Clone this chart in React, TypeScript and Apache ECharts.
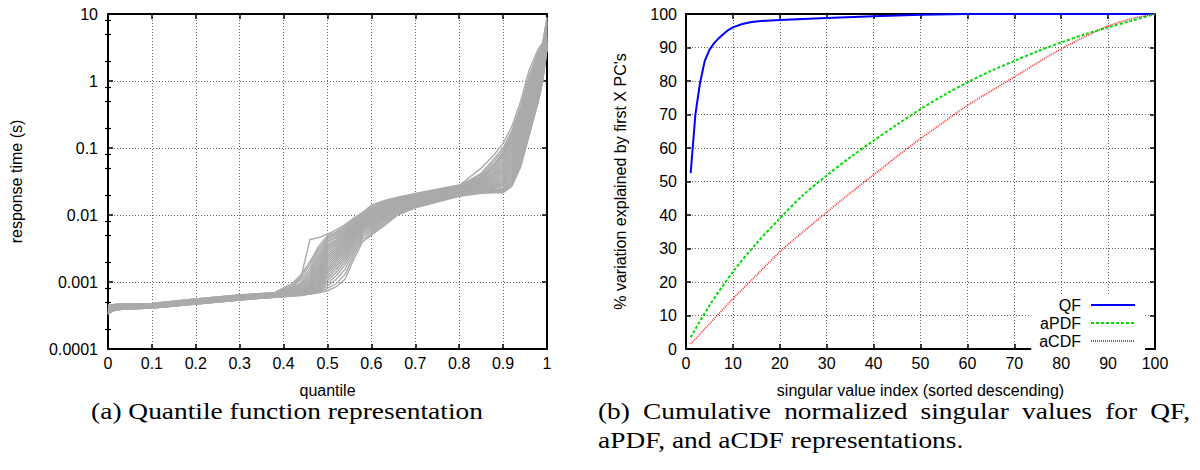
import React, { useEffect, useRef } from "react";
import * as echarts from "echarts";

// ---------- (a) quantile functions: response time in ms at each quantile ----------
const QUANTILES = [0, 0.01, 0.03, 0.1, 0.2, 0.3, 0.38, 0.42, 0.44, 0.46, 0.48, 0.5, 0.52, 0.54, 0.56, 0.58, 0.6, 0.63, 0.66, 0.7, 0.8, 0.85, 0.88, 0.9, 0.92, 0.94, 0.96, 0.98, 0.99, 1];

const RESPONSE_MS: number[][] = [
  [0.42, 0.44, 0.45, 0.47, 0.54, 0.62, 0.66, 0.80, 1.2, 4.3, 4.6, 5.2, 6.0, 7.2, 9.0, 11, 14, 16.5, 18.5, 21, 28, 36, 55, 80, 150, 340, 1000, 2300, 3200, 7500],
  [0.45, 0.46, 0.47, 0.48, 0.56, 0.64, 0.70, 0.95, 1.3, 2.0, 3.4, 4.9, 5.6, 6.8, 8.6, 10.6, 13.4, 16, 18, 20.5, 27.5, 50, 80, 117, 210, 500, 1500, 3000, 3700, 9000],
  [0.45, 0.46, 0.47, 0.48, 0.56, 0.64, 0.69, 0.90, 1.2, 1.8, 3.1, 4.6, 5.3, 6.5, 8.2, 10.2, 12.8, 15.5, 17.5, 20.1, 27, 42, 70, 100, 180, 420, 1250, 2700, 3500, 8500],
  [0.42, 0.44, 0.45, 0.47, 0.54, 0.62, 0.68, 0.85, 1.1, 1.6, 2.8, 4.4, 5.1, 6.2, 7.8, 9.8, 12.3, 15, 17.1, 19.7, 26.6, 40, 64, 92, 165, 380, 1100, 2500, 3300, 8000],
  [0.40, 0.43, 0.44, 0.46, 0.53, 0.60, 0.67, 0.80, 1.0, 1.45, 2.5, 4.1, 4.8, 5.9, 7.5, 9.5, 11.9, 14.6, 16.7, 19.3, 26.2, 38, 58, 85, 150, 340, 950, 2300, 3200, 7600],
  [0.45, 0.46, 0.47, 0.48, 0.56, 0.64, 0.67, 0.77, 0.95, 1.32, 2.3, 3.9, 4.6, 5.6, 7.2, 9.2, 11.5, 14.2, 16.3, 19.0, 25.8, 36, 54, 78, 140, 310, 850, 2100, 3100, 7200],
  [0.42, 0.44, 0.45, 0.47, 0.54, 0.62, 0.66, 0.75, 0.9, 1.22, 2.1, 3.6, 4.3, 5.4, 7.0, 9.0, 11.2, 13.8, 16, 18.7, 25.4, 35, 50, 72, 128, 280, 760, 1950, 2950, 6800],
  [0.38, 0.41, 0.43, 0.45, 0.52, 0.59, 0.66, 0.73, 0.86, 1.13, 1.9, 3.4, 4.1, 5.2, 6.8, 8.8, 10.9, 13.5, 15.7, 18.4, 25, 34, 47, 66, 118, 255, 680, 1800, 2800, 6400],
  [0.40, 0.43, 0.44, 0.46, 0.53, 0.60, 0.65, 0.71, 0.82, 1.06, 1.75, 3.2, 3.9, 5.0, 6.6, 8.6, 10.6, 13.2, 15.4, 18.1, 24.7, 33, 44, 61, 108, 235, 620, 1650, 2650, 6000],
  [0.36, 0.40, 0.42, 0.44, 0.50, 0.57, 0.65, 0.70, 0.79, 1.0, 1.6, 3.0, 3.7, 4.8, 6.4, 8.4, 10.3, 12.9, 15.1, 17.8, 24.4, 32, 42, 57, 100, 215, 570, 1500, 2500, 5700],
  [0.42, 0.44, 0.45, 0.47, 0.54, 0.62, 0.64, 0.69, 0.77, 0.95, 1.48, 2.8, 3.5, 4.6, 6.2, 8.2, 10.0, 12.6, 14.8, 17.5, 24.1, 31, 40, 53, 92, 200, 520, 1400, 2350, 5400],
  [0.38, 0.41, 0.43, 0.45, 0.52, 0.59, 0.64, 0.68, 0.75, 0.91, 1.38, 2.6, 3.3, 4.4, 6.0, 8.0, 9.7, 12.3, 14.5, 17.2, 23.8, 30, 38, 49, 85, 185, 480, 1300, 2200, 5100],
  [0.34, 0.38, 0.40, 0.42, 0.48, 0.55, 0.63, 0.67, 0.73, 0.87, 1.28, 2.45, 3.1, 4.2, 5.8, 7.8, 9.4, 12.0, 14.2, 16.9, 23.5, 29.5, 36, 46, 78, 170, 440, 1200, 2050, 4800],
  [0.40, 0.43, 0.44, 0.46, 0.53, 0.60, 0.63, 0.67, 0.72, 0.84, 1.2, 2.3, 2.9, 4.0, 5.6, 7.6, 9.1, 11.7, 13.9, 16.6, 23.2, 29, 34.5, 43, 72, 158, 410, 1100, 1900, 4600],
  [0.36, 0.40, 0.42, 0.44, 0.50, 0.57, 0.63, 0.66, 0.71, 0.81, 1.12, 2.15, 2.75, 3.8, 5.4, 7.4, 8.8, 11.4, 13.6, 16.3, 22.9, 28, 33, 40, 66, 146, 380, 1020, 1800, 4400],
  [0.33, 0.37, 0.39, 0.41, 0.47, 0.54, 0.62, 0.66, 0.70, 0.79, 1.05, 2.0, 2.6, 3.6, 5.2, 7.2, 8.5, 11.1, 13.3, 16.0, 22.6, 27.5, 31.5, 37.5, 61, 135, 350, 950, 1700, 4200],
  [0.38, 0.41, 0.43, 0.45, 0.52, 0.59, 0.62, 0.65, 0.69, 0.77, 0.99, 1.85, 2.45, 3.4, 5.0, 7.0, 8.2, 10.8, 13.0, 15.7, 22.3, 27, 30, 35, 56, 124, 325, 880, 1600, 4000],
  [0.34, 0.38, 0.40, 0.42, 0.48, 0.55, 0.62, 0.65, 0.68, 0.75, 0.94, 1.7, 2.3, 3.2, 4.8, 6.8, 7.9, 10.5, 12.7, 15.4, 22, 26, 29, 33, 52, 114, 300, 820, 1500, 3900],
  [0.38, 0.41, 0.43, 0.45, 0.52, 0.59, 0.61, 0.64, 0.67, 0.73, 0.9, 1.58, 2.15, 3.0, 4.6, 6.6, 7.6, 10.2, 12.4, 15.1, 21.7, 25.5, 28, 31, 48, 105, 280, 760, 1420, 3800],
  [0.36, 0.40, 0.42, 0.44, 0.50, 0.57, 0.61, 0.64, 0.67, 0.72, 0.86, 1.46, 2.0, 2.8, 4.4, 6.4, 7.3, 9.9, 12.1, 14.8, 21.4, 25, 27, 29.5, 44, 96, 260, 710, 1350, 3700],
  [0.33, 0.37, 0.39, 0.41, 0.47, 0.54, 0.61, 0.64, 0.66, 0.71, 0.83, 1.35, 1.85, 2.6, 4.2, 6.2, 7.0, 9.6, 11.8, 14.5, 21.1, 24.5, 26, 28, 41, 88, 240, 660, 1280, 3600],
  [0.40, 0.43, 0.44, 0.46, 0.53, 0.60, 0.60, 0.63, 0.66, 0.70, 0.8, 1.24, 1.7, 2.4, 4.0, 6.0, 6.7, 9.3, 11.5, 14.2, 20.8, 24, 25, 26.5, 38, 80, 225, 620, 1220, 3500],
  [0.34, 0.38, 0.40, 0.42, 0.48, 0.55, 0.60, 0.63, 0.65, 0.69, 0.77, 1.14, 1.55, 2.2, 3.7, 5.7, 6.4, 9.0, 11.2, 13.9, 20.5, 23.5, 24, 25, 35, 73, 210, 590, 1160, 3400],
  [0.38, 0.41, 0.43, 0.45, 0.52, 0.59, 0.60, 0.63, 0.65, 0.68, 0.75, 1.05, 1.4, 2.0, 3.4, 5.4, 6.1, 8.6, 10.9, 13.6, 20.2, 23, 23.5, 24, 33, 67, 195, 560, 1100, 3300],
  [0.33, 0.37, 0.39, 0.41, 0.47, 0.54, 0.59, 0.62, 0.64, 0.67, 0.73, 0.96, 1.25, 1.8, 3.1, 5.1, 5.8, 8.2, 10.6, 13.4, 19.9, 22.5, 23, 23, 31, 62, 182, 530, 1060, 3200],
  [0.36, 0.40, 0.42, 0.44, 0.50, 0.57, 0.59, 0.62, 0.64, 0.67, 0.71, 0.88, 1.1, 1.55, 2.8, 4.8, 5.5, 7.8, 10.4, 13.2, 19.6, 22, 22.5, 22.5, 29.5, 58, 172, 510, 1020, 3100],
  [0.34, 0.38, 0.40, 0.42, 0.48, 0.55, 0.59, 0.62, 0.64, 0.66, 0.70, 0.8, 0.95, 1.3, 2.5, 4.4, 5.2, 7.4, 10.2, 13.0, 19.3, 21.5, 22, 22, 28, 55, 165, 495, 990, 3050],
  [0.33, 0.37, 0.39, 0.41, 0.47, 0.54, 0.59, 0.61, 0.63, 0.66, 0.69, 0.74, 0.85, 1.1, 2.2, 4.0, 5.0, 7.0, 10.0, 12.8, 19.0, 21, 21.5, 21.5, 27, 52, 160, 490, 980, 3000],
];

const LOG_MINOR_TICKS = [0.0002, 0.0005, 0.0008, 0.002, 0.005, 0.008, 0.02, 0.05, 0.08, 0.2, 0.5, 0.8, 2, 5, 8];

// ---------- (b) cumulative normalized singular values (%) ----------
const QF_INDEX = [1, 2, 3, 4, 5, 6, 7, 8, 9, 10, 12, 14, 16, 20, 25, 30, 40, 50, 60, 70, 80, 90, 100];
const QF_VALUES = [52.5, 70, 79.5, 86, 89.3, 91.3, 92.8, 94, 95.2, 96, 97, 97.6, 97.9, 98.2, 98.5, 98.8, 99.3, 99.8, 100, 100, 100, 100, 100];
const SV_INDEX = [1, 5, 10, 15, 20, 25, 30, 35, 40, 45, 50, 55, 60, 65, 70, 75, 80, 85, 90, 95, 100];
const APDF_VALUES = [3.5, 13, 23, 31.5, 39, 46, 51.8, 57.2, 62.2, 67, 71.6, 75.8, 79.6, 83, 86, 88.9, 91.5, 93.9, 96, 98, 100];
const ACDF_VALUES = [1.5, 7.5, 15, 22, 29, 35, 40.8, 46.5, 52, 57.5, 62.8, 67.8, 72.7, 77, 81.2, 85.5, 89.6, 93.2, 96.4, 98.6, 100];

const SERIES_NAMES = ["QF", "aPDF", "aCDF"];

const CAPTION_A = "(a) Quantile function representation";
const CAPTION_B1 = "(b) Cumulative normalized singular values for QF,";
const CAPTION_B2 = "aPDF, and aCDF representations.";

const SANS = "'Liberation Sans', Arial, Helvetica, sans-serif";
const SERIF = "'Liberation Serif', 'Times New Roman', serif";
const CAP_SIZE = 24;
const FS = 16;

function measure(text: string, font: string): number {
  const ctx = document.createElement("canvas").getContext("2d");
  if (!ctx) return text.length * 10;
  ctx.font = font;
  return ctx.measureText(text).width;
}

const splitLineStyle = { show: true, lineStyle: { color: "#666", width: 1, type: [1, 2] as any } };
const axisLineStyle = { show: true, onZero: false, lineStyle: { color: "#000", width: 2 } };
const majorTick = { show: true, inside: true, length: 5, lineStyle: { color: "#000", width: 1.5 } };
const labelStyle = { color: "#000", fontSize: FS, fontFamily: SANS };
const nameStyle = { color: "#000", fontSize: FS, fontFamily: SANS };

export default function App() {
  const ref = useRef<HTMLDivElement>(null);

  useEffect(() => {
    if (!ref.current) return;
    const chart = echarts.init(ref.current, null, { renderer: "svg" });

    const capFont = `${CAP_SIZE}px ${SERIF}`;
    const capScale = 392 / measure(CAPTION_A, capFont);
    const words = CAPTION_B1.split(" ");
    const widths = words.map((w) => measure(w, capFont) * capScale);
    const lineStart = 598;
    const lineEnd = 1190;
    const gap = (lineEnd - lineStart - widths.reduce((a, b) => a + b, 0)) / (words.length - 1);
    let cursor = lineStart;
    const wordTexts = words.map((w, i) => {
      const el = {
        type: "text",
        x: cursor,
        y: 411,
        scaleX: capScale,
        style: { text: w, fontSize: CAP_SIZE, fontFamily: SERIF, fill: "#000", verticalAlign: "middle", align: "left" },
      };
      cursor += widths[i] + gap;
      return el;
    });

    const qfSeries = RESPONSE_MS.map((row, k) => ({
      name: `q${k}`,
      type: "line",
      xAxisIndex: 0,
      yAxisIndex: 0,
      data: QUANTILES.map((q, i) => [q, row[i] / 1000]),
      symbol: "none",
      silent: true,
      lineStyle: { color: "#aaaaaa", width: 1.4 },
      z: 2,
    }));

    const option: any = {
      animation: false,
      backgroundColor: "#fff",
      textStyle: { fontFamily: SANS },
      grid: [
        { left: 108, top: 14, width: 439, height: 335 },
        { left: 686, top: 14, width: 469, height: 335 },
      ],
      xAxis: [
        {
          gridIndex: 0, type: "value", min: 0, max: 1, interval: 0.1, position: "bottom",
          axisLine: axisLineStyle, axisTick: majorTick, splitLine: splitLineStyle,
          axisLabel: { ...labelStyle, margin: 6 },
          name: "quantile", nameLocation: "middle", nameGap: 33, nameTextStyle: nameStyle,
        },
        {
          gridIndex: 0, type: "value", min: 0, max: 1, interval: 0.1, position: "top",
          axisLine: axisLineStyle, axisTick: majorTick, splitLine: { show: false }, axisLabel: { show: false },
        },
        {
          gridIndex: 1, type: "value", min: 0, max: 100, interval: 10, position: "bottom",
          axisLine: axisLineStyle, axisTick: majorTick, splitLine: splitLineStyle,
          axisLabel: { ...labelStyle, margin: 6 },
          name: "singular value index (sorted descending)", nameLocation: "middle", nameGap: 33, nameTextStyle: nameStyle,
        },
        {
          gridIndex: 1, type: "value", min: 0, max: 100, interval: 10, position: "top",
          axisLine: axisLineStyle, axisTick: majorTick, splitLine: { show: false }, axisLabel: { show: false },
        },
      ],
      yAxis: [
        {
          gridIndex: 0, type: "log", logBase: 10, min: 0.0001, max: 10, position: "left",
          axisLine: axisLineStyle, axisTick: majorTick, splitLine: splitLineStyle, minorTick: { show: false },
          axisLabel: { ...labelStyle, margin: 10, formatter: (v: number) => (v >= 1 ? String(Math.round(v)) : String(Number(v.toPrecision(1)))) },
          name: "response time (s)", nameLocation: "middle", nameGap: 84, nameRotate: 90, nameTextStyle: nameStyle,
        },
        {
          gridIndex: 0, type: "log", logBase: 10, min: 0.0001, max: 10, position: "right",
          axisLine: axisLineStyle, axisTick: majorTick, splitLine: { show: false }, axisLabel: { show: false },
        },
        {
          gridIndex: 0, type: "log", logBase: 10, min: 0.0001, max: 10, position: "left",
          axisLine: { show: false }, splitLine: { show: false }, axisLabel: { show: false },
          axisTick: { show: true, inside: true, length: 3, customValues: LOG_MINOR_TICKS, lineStyle: { color: "#000", width: 1.2 } },
        },
        {
          gridIndex: 0, type: "log", logBase: 10, min: 0.0001, max: 10, position: "right",
          axisLine: { show: false }, splitLine: { show: false }, axisLabel: { show: false },
          axisTick: { show: true, inside: true, length: 3, customValues: LOG_MINOR_TICKS, lineStyle: { color: "#000", width: 1.2 } },
        },
        {
          gridIndex: 1, type: "value", min: 0, max: 100, interval: 10, position: "left",
          axisLine: axisLineStyle, axisTick: majorTick, splitLine: splitLineStyle,
          axisLabel: { ...labelStyle, margin: 9 },
          name: "% variation explained by first X PC's", nameLocation: "middle", nameGap: 58, nameRotate: 90, nameTextStyle: nameStyle,
        },
        {
          gridIndex: 1, type: "value", min: 0, max: 100, interval: 10, position: "right",
          axisLine: axisLineStyle, axisTick: majorTick, splitLine: { show: false }, axisLabel: { show: false },
        },
      ],
      legend: {
        data: SERIES_NAMES,
        orient: "vertical",
        right: 55,
        top: 295,
        align: "right",
        itemWidth: 44,
        itemHeight: 14,
        itemGap: 2,
        padding: [2, 9, 4, 8],
        backgroundColor: "#fff",
        selectedMode: false,
        itemStyle: { color: "transparent", borderWidth: 0, opacity: 0 },
        textStyle: { color: "#000", fontSize: FS, fontFamily: SANS, lineHeight: 14, padding: [0, 5, 0, 0] },
        z: 10,
      },
      series: [
        ...qfSeries,
        {
          name: SERIES_NAMES[0], type: "line", xAxisIndex: 2, yAxisIndex: 4,
          data: QF_INDEX.map((x, i) => [x, QF_VALUES[i]]),
          symbol: "none", itemStyle: { color: "#0000ff" }, lineStyle: { color: "#0000ff", width: 2 }, z: 3,
        },
        {
          name: SERIES_NAMES[1], type: "line", xAxisIndex: 2, yAxisIndex: 4,
          data: SV_INDEX.map((x, i) => [x, APDF_VALUES[i]]),
          symbol: "none", smooth: 0.3, itemStyle: { color: "#00dd00" }, lineStyle: { color: "#00dd00", width: 2, type: [3, 2] }, z: 3,
        },
        {
          name: SERIES_NAMES[2], type: "line", xAxisIndex: 2, yAxisIndex: 4,
          data: SV_INDEX.map((x, i) => [x, ACDF_VALUES[i]]),
          symbol: "none", smooth: 0.3, itemStyle: { color: "#ff2828" }, lineStyle: { color: "#ff2828", width: 1.6, type: [1, 1] }, z: 3,
        },
      ],
      graphic: [
        {
          type: "text", x: 287, y: 411, scaleX: capScale,
          style: { text: CAPTION_A, fontSize: CAP_SIZE, fontFamily: SERIF, fill: "#000", align: "center", verticalAlign: "middle" },
        },
        ...wordTexts,
        {
          type: "text", x: 598, y: 440, scaleX: capScale,
          style: { text: CAPTION_B2, fontSize: CAP_SIZE, fontFamily: SERIF, fill: "#000", align: "left", verticalAlign: "middle" },
        },
      ],
    };

    chart.setOption(option);
    return () => chart.dispose();
  }, []);

  return <div ref={ref} style={{ position: "fixed", left: 0, top: 0, width: 1200, height: 470 }} />;
}
